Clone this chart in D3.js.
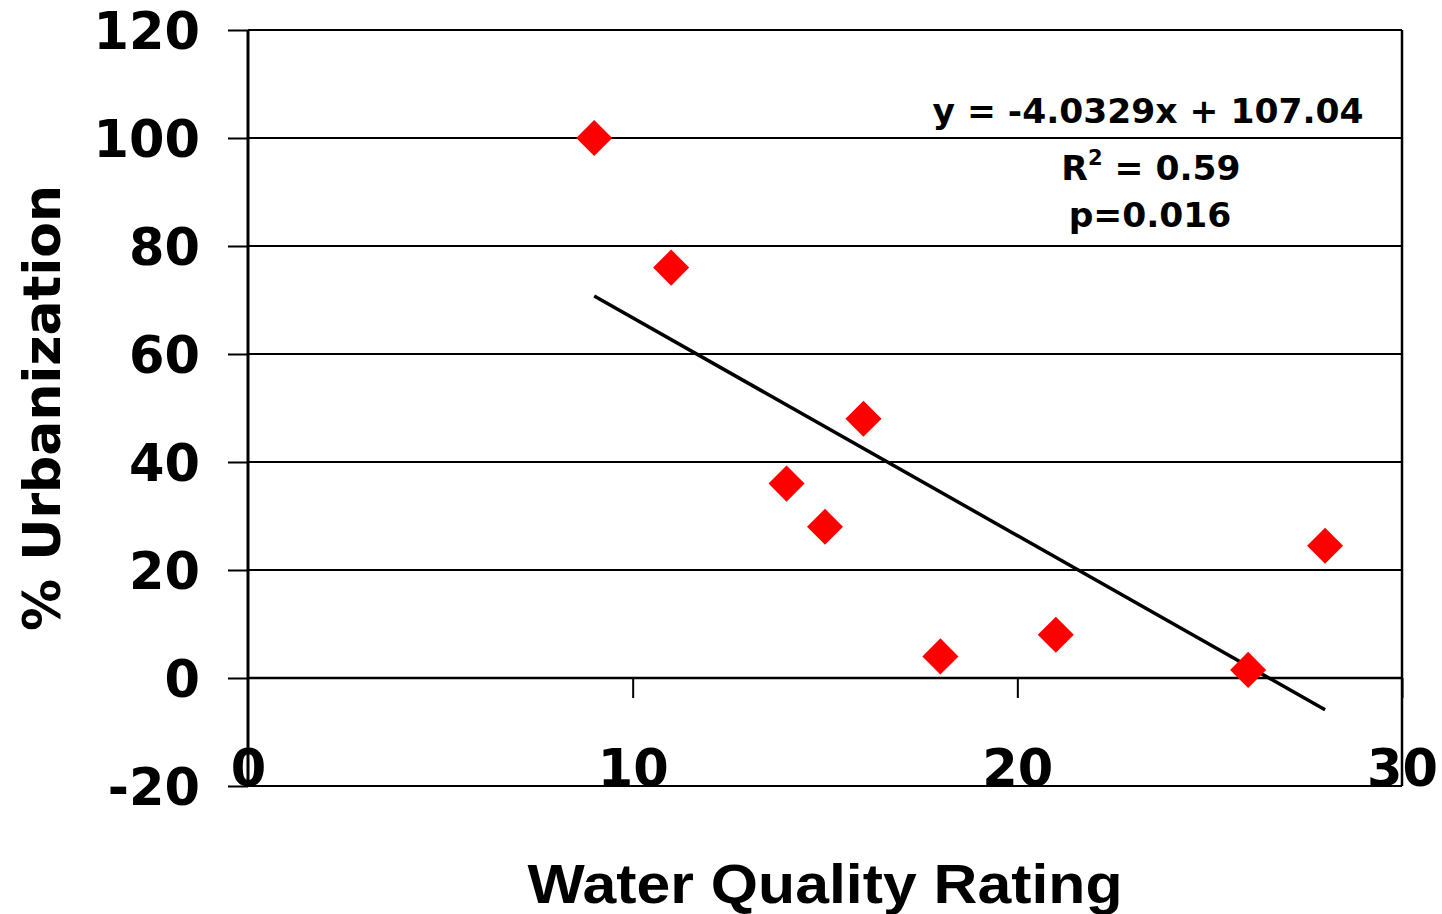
<!DOCTYPE html>
<html>
<head>
<meta charset="utf-8">
<script src="https://cdn.jsdelivr.net/npm/d3@7"></script>
<style>
  html, body { margin: 0; padding: 0; background: #fff; }
  svg { display: block; }
  text { font-family: "DejaVu Sans", Verdana, sans-serif; font-weight: bold; fill: #000; }
</style>
</head>
<body>
<svg id="chart" width="1442" height="914"></svg>
<script>
// ---- data ----
const ratings = [9, 11, 14, 15, 16, 18, 21, 26, 28];
const urbanization = [100, 76, 36, 28, 48, 4, 8, 1.5, 24.5];
const xTicks = [0, 10, 20, 30];
const yTicks = [-20, 0, 20, 40, 60, 80, 100, 120];
const trendSlope = -4.0329;
const trendIntercept = 107.04;
const trendRange = [9, 28];
const annotationLines = ["y = -4.0329x + 107.04", "R2 = 0.59", "p=0.016"];
const xLabel = "Water Quality Rating";
const yLabel = "% Urbanization";

// ---- layout ----
const svg = d3.select("#chart");
const pLeft = 248, pRight = 1402, pTop = 30, pBottom = 786;
const x = d3.scaleLinear().domain([0, 30]).range([pLeft, pRight]);
const y = d3.scaleLinear().domain([-20, 120]).range([pBottom, pTop]);
const fmt = d => String(d);

// gridlines
svg.append("g").selectAll("line").data(yTicks).join("line")
  .attr("x1", pLeft).attr("x2", pRight)
  .attr("y1", d => y(d)).attr("y2", d => y(d))
  .attr("stroke", "#000").attr("stroke-width", 2);

// right border
svg.append("line").attr("x1", pRight).attr("x2", pRight)
  .attr("y1", pTop).attr("y2", pBottom).attr("stroke", "#000").attr("stroke-width", 2.5);

// y axis
const yAxis = svg.append("g").attr("transform", `translate(${pLeft},0)`)
  .call(d3.axisLeft(y).tickValues(yTicks).tickSize(20).tickPadding(28).tickFormat(fmt));
yAxis.select(".domain").attr("stroke-width", 3).attr("d", `M0,${pTop}V${pBottom}`);
yAxis.selectAll(".tick line").attr("stroke-width", 2);
yAxis.selectAll("text").attr("font-size", 51).attr("font-family", null).attr("dy", "0.36em");

// x axis at y = 0
const xAxis = svg.append("g").attr("transform", `translate(0,${y(0)})`)
  .call(d3.axisBottom(x).tickValues(xTicks).tickSize(20).tickFormat(fmt));
xAxis.select(".domain").attr("stroke-width", 2.5).attr("d", `M${pLeft},0H${pRight}`);
xAxis.selectAll(".tick line").attr("stroke-width", 2).filter(d => d === 0).remove();
xAxis.selectAll("text").attr("font-size", 51).attr("font-family", null)
  .attr("y", pBottom - y(0)).attr("dy", 0);
d3.selectAll(".tick text").attr("fill", "#000");

// trend line
svg.append("line")
  .attr("x1", x(trendRange[0])).attr("y1", y(trendSlope * trendRange[0] + trendIntercept))
  .attr("x2", x(trendRange[1])).attr("y2", y(trendSlope * trendRange[1] + trendIntercept))
  .attr("stroke", "#000").attr("stroke-width", 3.5);

// points
const pts = ratings.map((r, i) => ({ x: r, y: urbanization[i] }));
svg.append("g").selectAll("path").data(pts).join("path")
  .attr("d", d3.symbol(d3.symbolSquare, 650))
  .attr("transform", d => `translate(${x(d.x)},${y(d.y)}) rotate(45)`)
  .attr("fill", "#ff0000");

// annotation
const ann = svg.append("g").attr("text-anchor", "middle").attr("font-size", 34.5);
ann.append("text").attr("x", 1148).attr("y", 123).text(annotationLines[0]);
const r2 = ann.append("text").attr("x", 1151).attr("y", 180);
r2.append("tspan").text("R");
r2.append("tspan").attr("font-size", 21).attr("dy", -15).text("2");
r2.append("tspan").attr("dy", 15).text(" = 0.59");
ann.append("text").attr("x", 1150).attr("y", 227).text(annotationLines[2]);

// axis titles
svg.append("text").attr("text-anchor", "middle")
  .attr("transform", "translate(60,408) rotate(-90)")
  .attr("font-size", 52).text(yLabel);
svg.append("text").attr("text-anchor", "middle")
  .attr("x", 825).attr("y", 903)
  .style("font-family", "'Liberation Sans', Arial, sans-serif")
  .attr("font-size", 56)
  .attr("textLength", 595).attr("lengthAdjust", "spacingAndGlyphs")
  .text(xLabel);
</script>
</body>
</html>
